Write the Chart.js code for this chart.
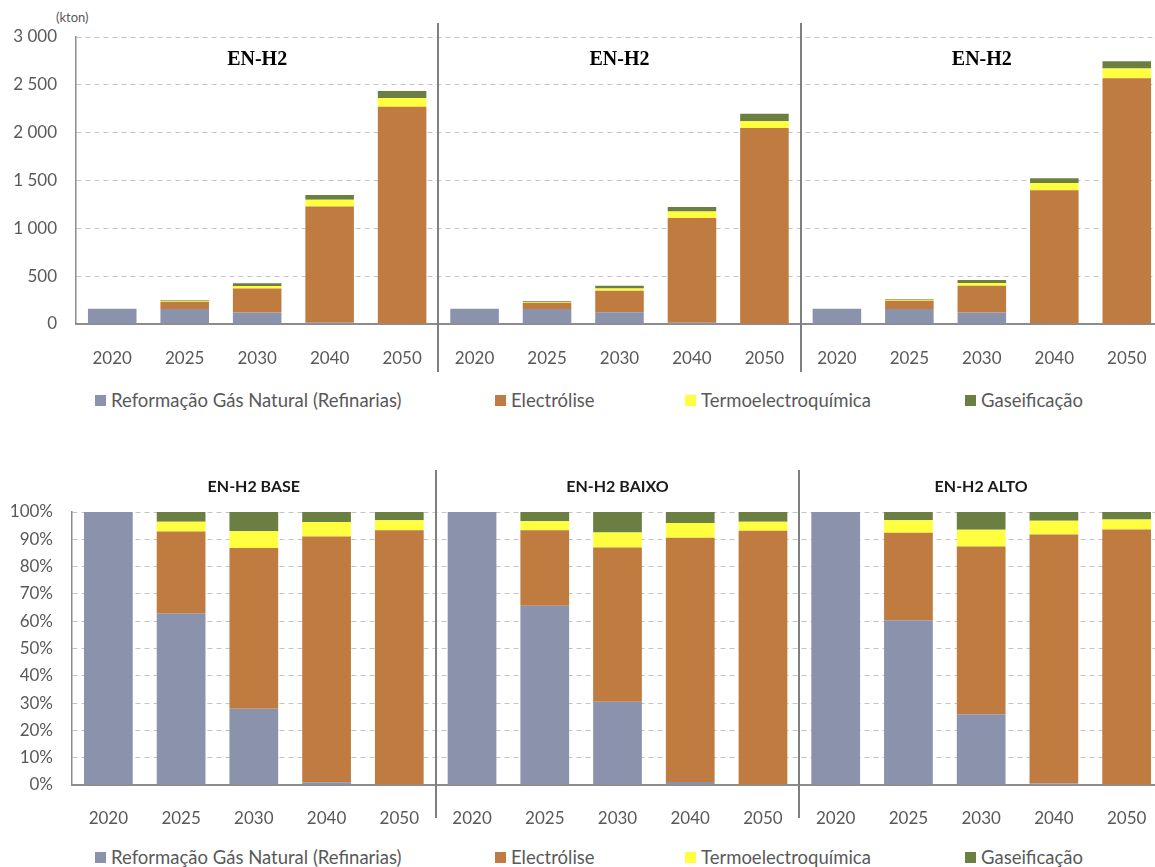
<!DOCTYPE html>
<html>
<head>
<meta charset="utf-8">
<script src="https://cdn.jsdelivr.net/npm/chart.js@4.4.1/dist/chart.umd.min.js"></script>
<style>
  body { margin: 0; background: #fff; width: 1155px; height: 867px; position: relative; overflow: hidden; font-family: Lato, sans-serif; }
  .box { position: absolute; left: 0; width: 1163px; height: 380px; }
  #topBox { top: 0; }
  #bottomBox { top: 455px; }
  .unit { position: absolute; left: 56px; top: 9px; font-size: 13px; color: #595959; }
  .legend { position: absolute; left: 0; width: 1155px; height: 24px; color: #595959; font-size: 18.5px; }
  .item { position: absolute; top: 0; height: 24px; display: flex; align-items: center; white-space: nowrap; }
  .swatch { width: 11px; height: 11px; margin-right: 5px; }
</style>
</head>
<body>
<div class="unit">(kton)</div>
<div class="box" id="topBox"><canvas id="topChart"></canvas></div>
<div class="legend" id="topLegend" style="top:388px"></div>
<div class="box" id="bottomBox"><canvas id="bottomChart"></canvas></div>
<div class="legend" id="bottomLegend" style="top:845px"></div>

<script>
const years = ["2020", "2025", "2030", "2040", "2050"];
const topTitles = ["EN-H2", "EN-H2", "EN-H2"];
const bottomTitles = ["EN-H2 BASE", "EN-H2 BAIXO", "EN-H2 ALTO"];
const seriesNames = ["Reformação Gás Natural (Refinarias)", "Electrólise", "Termoelectroquímica", "Gaseificação"];
const seriesColors = ["#8a93ab", "#c07b40", "#ffff40", "#6c7f43"];

// kton, um array por cenário: BASE, BAIXO, ALTO
const reformacao = [[160, 158, 119, 13, 2], [160, 157, 122, 13, 2], [160, 158, 119, 8, 2]];
const electrolise = [[0, 75, 251, 1215, 2270], [0, 66, 226, 1096, 2046], [0, 84, 282, 1390, 2567]];
const termoelectroquimica = [[0, 9, 26, 72, 90], [0, 8, 22, 66, 72], [0, 12, 28, 76, 101]];
const gaseificacao = [[0, 9, 30, 49, 73], [0, 8, 30, 49, 78], [0, 8, 30, 49, 76]];

const legendX = [95, 495, 685, 965];

const labels = topTitles.flatMap(() => years);
const series = [reformacao, electrolise, termoelectroquimica, gaseificacao].map((s) => s.flat());
const totals = labels.map((_, i) => series.reduce((sum, s) => sum + s[i], 0));
const shares = series.map((s) => s.map((v, i) => (v / totals[i]) * 100));

const textColor = "#595959";
const tickFont = { family: "Lato", size: 17 };

// linhas verticais entre cenários + títulos dos painéis
const panelPlugin = {
  id: "panels",
  afterDatasetsDraw(chart, args, opts) {
    const { ctx, scales: { x } } = chart;
    const step = x.getPixelForValue(1) - x.getPixelForValue(0);
    ctx.save();
    ctx.strokeStyle = "#7f7f7f";
    ctx.lineWidth = 2;
    [5, 10].forEach((i) => {
      const px = Math.round(x.getPixelForValue(i) - step / 2);
      ctx.beginPath();
      ctx.moveTo(px, opts.lineTop);
      ctx.lineTo(px, opts.lineBottom);
      ctx.stroke();
    });
    ctx.font = opts.font;
    ctx.fillStyle = opts.color;
    ctx.textAlign = "center";
    ctx.textBaseline = "middle";
    opts.titles.forEach((t, i) => {
      ctx.fillText(t, x.getPixelForValue(i * 5 + 2), opts.titleY);
    });
    ctx.restore();
  },
};

function makeChart(canvasId, data, cfg) {
  return new Chart(document.getElementById(canvasId), {
    type: "bar",
    data: {
      labels: labels,
      datasets: data.map((d, i) => ({
        label: seriesNames[i],
        data: d,
        backgroundColor: seriesColors[i],
        borderWidth: 0,
        categoryPercentage: 1,
        barPercentage: 0.67,
      })),
    },
    options: {
      responsive: true,
      maintainAspectRatio: false,
      animation: false,
      layout: { padding: { top: cfg.top, left: 0, right: 0, bottom: 0 } },
      plugins: {
        legend: { display: false },
        tooltip: { enabled: false },
        panels: cfg.panels,
      },
      scales: {
        x: {
          stacked: true,
          grid: { display: false },
          border: { display: true, color: "#8c8c8c", width: 2 },
          ticks: { color: textColor, font: tickFont, padding: cfg.xPad, maxRotation: 0, autoSkip: false },
          afterFit(scale) { scale.height = cfg.xHeight; },
        },
        y: {
          stacked: true,
          min: 0,
          max: cfg.max,
          grid: { color: "#c4c4c4", lineWidth: 1, drawTicks: false },
          border: { display: true, color: "#8c8c8c", width: 1.5, dash: [5, 4] },
          ticks: { color: textColor, font: tickFont, padding: cfg.yPad, stepSize: cfg.step, callback: cfg.format },
          afterFit(scale) { scale.width = cfg.yWidth; },
        },
      },
    },
    plugins: [panelPlugin],
  });
}

makeChart("topChart", series, {
  top: 37, max: 3000, step: 500, xHeight: 56, xPad: 16, yPad: 19, yWidth: 76,
  format: (v) => String(v).replace(/\B(?=(\d{3})+(?!\d))/g, " "),
  panels: { titles: topTitles, titleY: 60, lineTop: 23, lineBottom: 372, font: "bold 20px 'Liberation Serif'", color: "#000" },
});

makeChart("bottomChart", shares, {
  top: 57, max: 100, step: 10, xHeight: 50, xPad: 15, yPad: 19, yWidth: 72,
  format: (v) => v + "%",
  panels: { titles: bottomTitles, titleY: 32, lineTop: 15, lineBottom: 363, font: "bold 16px Lato", color: "#1a1a1a" },
});

function buildLegend(id) {
  const el = document.getElementById(id);
  seriesNames.forEach((name, i) => {
    const item = document.createElement("div");
    item.className = "item";
    item.style.left = legendX[i] + "px";
    const sw = document.createElement("span");
    sw.className = "swatch";
    sw.style.background = seriesColors[i];
    const txt = document.createElement("span");
    txt.textContent = name;
    item.appendChild(sw);
    item.appendChild(txt);
    el.appendChild(item);
  });
}
buildLegend("topLegend");
buildLegend("bottomLegend");
</script>
</body>
</html>
